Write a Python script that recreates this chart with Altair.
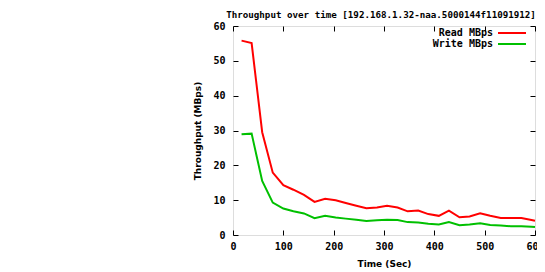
import altair as alt
import pandas as pd

times = [17, 37, 58, 79, 100, 120, 141, 162, 183, 204, 224, 245, 265, 286, 306,
         327, 347, 368, 388, 409, 429, 450, 470, 491, 511, 532, 552, 573, 593, 600]
read_mbps = [55.8, 55.1, 29.5, 17.9, 14.3, 13.0, 11.5, 9.5, 10.4, 10.0, 9.2, 8.4,
             7.7, 7.9, 8.4, 7.9, 6.8, 7.0, 6.0, 5.5, 7.0, 5.1, 5.3, 6.2, 5.5, 4.9,
             4.9, 4.9, 4.3, 4.1]
write_mbps = [28.9, 29.1, 15.5, 9.3, 7.6, 6.8, 6.2, 4.8, 5.5, 5.0, 4.7, 4.4, 4.0,
              4.2, 4.4, 4.3, 3.7, 3.6, 3.2, 3.0, 3.7, 2.8, 3.0, 3.4, 2.9, 2.7, 2.5,
              2.5, 2.4, 2.3]
series_names = ["Read MBps", "Write MBps"]
series_colors = ["#ff0000", "#00c000"]
x_ticks = [0, 100, 200, 300, 400, 500, 600]
y_ticks = [0, 10, 20, 30, 40, 50, 60]

rows = []
for t, r, w in zip(times, read_mbps, write_mbps):
    rows.append({"time": t, "series": series_names[0], "value": r})
    rows.append({"time": t, "series": series_names[1], "value": w})
df = pd.DataFrame(rows)

mono = "DejaVu Sans Mono"
inward = {"expr": "-5"}

xscale = alt.Scale(domain=[0, 600], nice=False, zero=False)
yscale = alt.Scale(domain=[0, 60], nice=False)

main = alt.Chart(df).mark_line(strokeWidth=2).encode(
    x=alt.X("time:Q", scale=xscale, title="Time (Sec)",
            axis=alt.Axis(values=x_ticks, grid=False, domain=False, tickSize=inward,
                          tickColor="#000", labelFont=mono, labelFontWeight="bold",
                          labelFontSize=10, labelColor="#000", labelPadding=11,
                          titleFont="DejaVu Sans", titleFontWeight="bold", titleFontSize=9,
                          titleColor="#000", titlePadding=8, labelFlush=False)),
    y=alt.Y("value:Q", scale=yscale, title="Throughput (MBps)",
            axis=alt.Axis(values=y_ticks, grid=False, domain=False, tickSize=inward,
                          tickColor="#000", labelFont=mono, labelFontWeight="bold",
                          labelFontSize=10, labelColor="#000", labelPadding=13,
                          titleFont="DejaVu Sans", titleFontWeight="bold", titleFontSize=9,
                          titleColor="#000", titlePadding=10)),
    color=alt.Color("series:N",
                    scale=alt.Scale(domain=series_names, range=series_colors),
                    legend=alt.Legend(title=None, orient="none", legendX=273, legendY=1,
                                      symbolType="M-2.8,0H2.8", symbolSize=100,
                                      symbolStrokeWidth=2, labelAlign="right",
                                      labelOffset={"expr": "-25"}, labelFont=mono,
                                      labelFontWeight="bold", labelFontSize=10,
                                      labelColor="#000", rowPadding={"expr": "-1.5"})),
)

mirror = alt.Chart(df).mark_line(opacity=0).encode(
    x=alt.X("time:Q", scale=xscale, title=None,
            axis=alt.Axis(orient="top", values=x_ticks, grid=False, domain=False,
                          tickSize=inward, tickColor="#000", labels=False)),
    y=alt.Y("value:Q", scale=yscale, title=None,
            axis=alt.Axis(orient="right", values=y_ticks, grid=False, domain=False,
                          tickSize=inward, tickColor="#000", labels=False)),
)

chart = alt.layer(main, mirror).resolve_axis(x="independent", y="independent").properties(
    width=302, height=209,
    title=alt.TitleParams("Throughput over time [192.168.1.32-naa.5000144f11091912]",
                          font=mono, fontSize=9.2, fontWeight="bold", color="#000",
                          anchor="middle", offset=1, dx=-3),
    autosize=alt.AutoSizeParams(type="none"),
    padding={"left": 225, "top": 18, "right": 2, "bottom": 37},
).configure_view(stroke="#000", strokeWidth=1).configure(background="white")

chart.save("out.html", embed_options={"renderer": "svg", "actions": False})
